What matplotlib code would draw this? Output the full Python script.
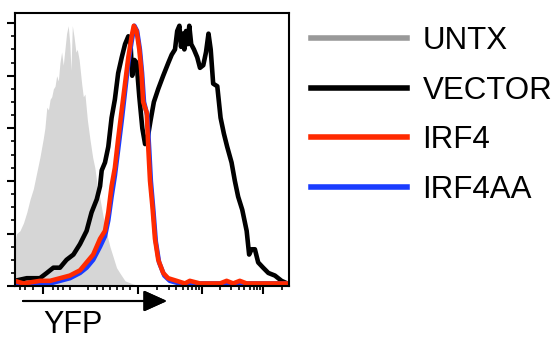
import numpy as np
import matplotlib
matplotlib.use('Agg')
import matplotlib.pyplot as plt
from matplotlib.lines import Line2D

plt.rcParams['font.family'] = ['Liberation Sans', 'DejaVu Sans']

# Histogrammer (kanal 0-1000, % af max)
untx_x = [0, 7, 19, 32, 44, 56, 68, 80, 92, 104, 110, 117, 123, 129, 135, 141, 147, 153,
          159, 165, 171, 177, 183, 189, 195, 201, 205, 210, 216, 223, 228, 235, 244, 250,
          256, 265, 274, 284, 292, 301, 311, 323, 335, 347, 359, 371, 383, 402, 426, 456, 1000]
untx_y = [16, 20, 21, 24, 28, 33, 37, 43, 49, 56, 60, 68, 67, 71, 72, 75, 76, 80,
          78, 85, 89, 84, 90, 96, 99, 92, 82, 99, 95, 89, 90, 86, 77, 72,
          73, 63, 56, 49, 45, 38, 33, 26, 20, 15, 11, 7, 5, 2, 1, 0, 0]

vector_x = [0, 44, 92, 117, 141, 165, 189, 214, 238, 262, 280, 299, 311, 317, 329, 341,
            353, 365, 377, 390, 402, 414, 422, 428, 436, 444, 454, 465, 475, 484, 495,
            507, 523, 541, 560, 572, 584, 592, 600, 606, 612, 618, 624, 630, 636, 643,
            653, 665, 675, 687, 697, 706, 714, 723, 738, 750, 762, 774, 790, 802, 814,
            829, 845, 854, 863, 875, 887, 905, 924, 948, 972, 993]
vector_y = [2, 3, 3, 5, 7, 7, 10, 12, 16, 21, 28, 33, 38, 44, 47, 53,
            64, 71, 81, 87, 92, 95, 92, 80, 86, 85, 72, 60, 54, 56, 63,
            70, 75, 80, 85, 88, 90, 97, 99, 91, 96, 90, 97, 92, 99, 92,
            90, 87, 83, 84, 89, 96, 90, 77, 76, 64, 58, 53, 47, 40, 34,
            29, 21, 12, 14, 14, 9, 7, 5, 4, 2, 1]

irf4_x = [0, 32, 92, 129, 165, 201, 238, 262, 286, 311, 329, 341, 353, 365, 377, 390,
          402, 414, 426, 434, 444, 454, 462, 468, 481, 487, 493, 502, 511, 523, 541,
          559, 590, 620, 638, 675, 748, 772, 796, 820, 845, 990]
irf4_y = [2, 1, 2, 2, 3, 4, 6, 9, 12, 18, 21, 28, 38, 45, 56, 67,
          77, 87, 95, 99, 97, 90, 81, 70, 66, 52, 40, 30, 18, 10, 5,
          3, 2, 1, 2, 1, 1, 2, 1, 2, 1, 1]

irf4aa_x = [0, 92, 129, 165, 201, 238, 262, 286, 311, 329, 341, 353, 365, 377, 390, 402,
            414, 426, 436, 446, 456, 464, 471, 483, 490, 496, 505, 514, 526, 545, 565, 600, 990]
irf4aa_y = [1, 1, 1, 2, 3, 5, 7, 10, 15, 19, 25, 34, 42, 52, 63, 74,
            85, 93, 99, 97, 90, 81, 70, 65, 52, 40, 29, 17, 9, 4, 2, 1, 1]

labels = ['UNTX', 'VECTOR', 'IRF4', 'IRF4AA']
colors = ['#999999', 'black', '#ff2a00', '#1a3cff']

# Akse-ticks (biexponentiel skala, kanalpositioner)
x_major = [104, 450, 681, 905]
x_minor = [19, 38, 68, 141, 159, 177, 201, 268, 299, 323, 347, 371, 396, 420,
           519, 561, 589, 612, 630, 646, 659, 670,
           749, 788, 816, 837, 856, 870, 883, 894, 973]

fig = plt.figure(figsize=(5.58, 3.41), dpi=100)
ax = fig.add_axes([0.0263, 0.161, 0.492, 0.802])

ax.fill_between(untx_x, untx_y, 0, color='#d6d6d6', lw=0)
ax.plot(vector_x, vector_y, color=colors[1], lw=3.3, solid_joinstyle='round')
ax.plot(irf4aa_x, irf4aa_y, color=colors[3], lw=3.3, solid_joinstyle='round')
ax.plot(irf4_x, irf4_y, color=colors[2], lw=3.3, solid_joinstyle='round')

ax.set_xlim(0, 1000)
ax.set_ylim(0, 104)
ax.set_xticks(x_major)
ax.set_xticks(x_minor, minor=True)
ax.set_yticks([0, 20, 40, 60, 80, 100])
ax.set_yticks(np.arange(0, 101, 5), minor=True)
ax.set_xticklabels([])
ax.set_yticklabels([])
ax.tick_params(which='major', length=6, width=1.5)
ax.tick_params(which='minor', length=3, width=1.2)
for s in ax.spines.values():
    s.set_linewidth(1.5)

# Legend
handles = [Line2D([], [], color=c, lw=4) for c in colors]
fig.legend(handles, labels, loc='upper left', bbox_to_anchor=(311 / 558, (341 - 26) / 341),
           frameon=False, fontsize=22.5, handlelength=3.07, handletextpad=0.5,
           labelspacing=0.63, borderpad=0, borderaxespad=0)

# Pil og aksetitel
fig.add_artist(plt.annotate('', xy=(167 / 558, 1 - 301 / 341), xytext=(23 / 558, 1 - 301 / 341),
                            xycoords='figure fraction', textcoords='figure fraction',
                            arrowprops=dict(arrowstyle='-|>,head_length=1.44,head_width=0.65',
                                            color='black', lw=1.5, shrinkA=0, shrinkB=0)))
fig.text(43 / 558, 0.002, 'YFP', fontsize=22, va='bottom', ha='left')

fig.savefig('out.png', dpi=100)
